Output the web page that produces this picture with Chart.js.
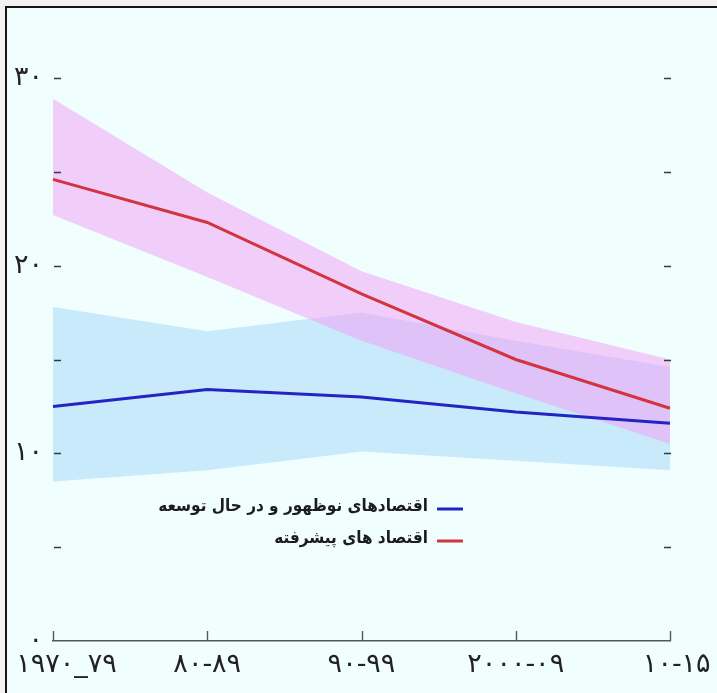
<!DOCTYPE html>
<html lang="fa">
<head>
<meta charset="utf-8">
<title>نرخ رشد</title>
<script src="https://cdn.jsdelivr.net/npm/chart.js@4.4.1/dist/chart.umd.min.js"></script>
<style>
  html, body { margin: 0; padding: 0; background: #f2f2f2; overflow: hidden; }
  #frame {
    position: absolute; left: 5px; top: 6px; width: 800px; height: 800px;
    border: 2px solid #151515; background: #f0fefe;
  }
  #c { position: absolute; left: 0; top: 0; }
</style>
</head>
<body>
<div id="frame"></div>
<canvas id="c" width="717" height="693"></canvas>
<script>
// Periods on the horizontal axis
const periods = ['۱۹۷۰_۷۹', '۸۰-۸۹', '۹۰-۹۹', '۲۰۰۰-۰۹', '۱۰-۱۵'];

// Advanced economies: median and range
const advanced     = [24.6, 22.3, 18.5, 15.0, 12.4];
const advancedHigh = [28.9, 23.9, 19.7, 17.0, 15.0];
const advancedLow  = [22.7, 19.4, 16.0, 13.2, 10.5];

// Emerging and developing economies: median and range
const emerging     = [12.5, 13.4, 13.0, 12.2, 11.6];
const emergingHigh = [17.8, 16.5, 17.5, 16.0, 14.6];
const emergingLow  = [8.5, 9.1, 10.1, 9.6, 9.1];

// Vertical axis ticks
const yMin = 0, yMax = 30, yStep = 5;
const yLabelled = [0, 10, 20, 30];

const legendItems = [
  { text: 'اقتصادهای نوظهور و در حال توسعه', color: '#2424c4' },
  { text: 'اقتصاد های پیشرفته', color: '#d23440' }
];

const faDigits = '۰۱۲۳۴۵۶۷۸۹';
const toFa = n => String(n).replace(/[0-9]/g, d => faDigits[+d]);

const labelFont = { family: 'DejaVu Sans', size: 27 };

// Short tick dashes on both sides and upward ticks on the base line
const axisMarks = {
  id: 'axisMarks',
  afterDraw(chart) {
    const { ctx, chartArea: a, scales: { x, y } } = chart;
    ctx.save();
    ctx.strokeStyle = '#3a3a3a';
    ctx.lineWidth = 1.6;
    for (let v = yMin + yStep; v <= yMax; v += yStep) {
      const py = Math.round(y.getPixelForValue(v)) + 0.5;
      ctx.beginPath();
      ctx.moveTo(a.left + 1, py); ctx.lineTo(a.left + 8, py);
      ctx.moveTo(a.right - 6, py); ctx.lineTo(a.right + 1, py);
      ctx.stroke();
    }
    ctx.strokeStyle = '#555';
    ctx.lineWidth = 1.4;
    const base = y.getPixelForValue(yMin);
    periods.forEach((p, i) => {
      const px = Math.round(x.getPixelForTick(i)) + 0.5;
      ctx.beginPath();
      ctx.moveTo(px, base); ctx.lineTo(px, base - 10);
      ctx.stroke();
    });
    ctx.restore();
  }
};

// Right-to-left legend placed inside the plot
const rtlLegend = {
  id: 'rtlLegend',
  afterDraw(chart) {
    const { ctx, chartArea: a } = chart;
    ctx.save();
    ctx.font = 'bold 17px "DejaVu Sans Condensed", "DejaVu Sans"';
    ctx.textBaseline = 'middle';
    ctx.direction = 'rtl';
    ctx.textAlign = 'right';
    legendItems.forEach((it, i) => {
      const ly = a.top + 431 + i * 32;
      const lx = a.left + 384;
      ctx.strokeStyle = it.color;
      ctx.lineWidth = 3;
      ctx.beginPath();
      ctx.moveTo(lx, ly); ctx.lineTo(lx + 26, ly);
      ctx.stroke();
      ctx.fillStyle = '#1c1c1c';
      ctx.fillText(it.text, lx - 9, ly - 2);
    });
    ctx.restore();
  }
};

const band = (data, color, fill, order) => ({
  data, fill, order,
  backgroundColor: color,
  borderWidth: 0,
  pointRadius: 0,
  tension: 0
});

new Chart(document.getElementById('c'), {
  type: 'line',
  data: {
    labels: periods,
    datasets: [
      band(emergingHigh, 'rgba(165, 214, 247, 0.52)', '+1', 5),
      band(emergingLow, 'rgba(0,0,0,0)', false, 4),
      band(advancedHigh, 'rgba(242, 160, 246, 0.52)', '+1', 3),
      band(advancedLow, 'rgba(0,0,0,0)', false, 2),
      {
        data: emerging, order: 1, fill: false,
        borderColor: '#2424c4', borderWidth: 3, pointRadius: 0, tension: 0
      },
      {
        data: advanced, order: 0, fill: false,
        borderColor: '#d23440', borderWidth: 3, pointRadius: 0, tension: 0
      }
    ]
  },
  options: {
    responsive: false,
    animation: false,
    layout: { padding: { left: 0, right: 47, top: 78, bottom: 0 } },
    plugins: { legend: { display: false }, tooltip: { enabled: false } },
    scales: {
      x: {
        type: 'category',
        offset: false,
        grid: { display: false, drawTicks: false },
        border: { display: true, color: '#555', width: 1.4 },
        ticks: {
          color: '#222', font: labelFont, padding: 8,
          autoSkip: false, maxRotation: 0,
          // nudge the outer labels inward so they clear the frame
          callback: (v, i) => i === 0 ? '\u2002\u2002' + periods[i]
            : i === periods.length - 1 ? '\u2002' + periods[i] : periods[i]
        },
        afterFit: s => { s.height = 52; s.paddingLeft = 0; s.paddingRight = 0; }
      },
      y: {
        min: yMin, max: yMax,
        grid: { display: false, drawTicks: false },
        border: { display: false },
        ticks: {
          stepSize: yStep, color: '#222', font: labelFont, padding: 10,
          callback: v => yLabelled.includes(v) ? toFa(v) : ''
        },
        afterFit: s => { s.width = 53; }
      }
    }
  },
  plugins: [axisMarks, rtlLegend]
});
</script>
</body>
</html>
